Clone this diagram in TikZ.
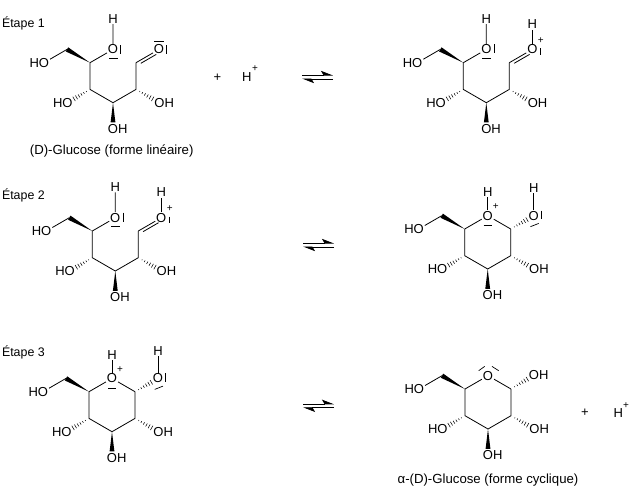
\documentclass[tikz,border=0pt]{standalone}
\usepackage{fontspec}
\setmainfont{Liberation Sans}
\usetikzlibrary{calc,arrows.meta}

\tikzset{
    every node/.style={inner sep=0.8pt,font=\fontsize{13}{15}\selectfont},
    caption/.style={font=\fontsize{13.2}{15}\selectfont},
    steplabel/.style={anchor=west,font=\fontsize{12.4}{15}\selectfont},
    bond/.style={black,line width=0.8pt},
    pair/.style={black,line width=0.7pt},
    charge/.style={inner sep=0pt,font=\fontsize{10}{11}\selectfont},
    harpoonline/.style={black,line width=0.8pt,-{Stealth[harpoon,length=11pt,width=8.5pt,inset=2.5pt]}},
}
\newcommand{\OHright}{O\rlap{H}}
\newcommand{\HOleft}{\llap{H}O}
\newcommand{\wedgebond}[3]{
    \coordinate (tip) at ($(#1)!#3!(#2)$);
    \fill ($(#1)$) -- ($(tip)!2.4pt!90:(#1)$) -- ($(tip)!2.4pt!-90:(#1)$) -- cycle;
}
\newcommand{\hashbond}[2]{
    \foreach \t/\w in {.16/.5,.27/.9,.38/1.3,.49/1.7,.60/2.1,.71/2.5} {
        \coordinate (tick) at ($(#1)!\t!(#2)$);
        \draw [black,line width=0.55pt] ($(tick)!\w pt!90:(#1)$) -- ($(tick)!\w pt!-90:(#1)$);
    }
}
\newcommand{\pairbar}[3]{\draw [pair] ([shift={(#2)}]#1.center) -- ([shift={(#3)}]#1.center);}
\newcommand{\equil}[3]{
    \coordinate (#1l1) at (#2,#3-1.9);
    \coordinate (#1r1) at (#2+31,#3-1.9);
    \coordinate (#1l2) at (#2,#3+1.9);
    \coordinate (#1r2) at (#2+31,#3+1.9);
    \draw [harpoonline] (#1l1) -- (#1r1);
    \draw [harpoonline] (#1r2) -- (#1l2);
}
% the carbons and OH groups every form has in common
\newcommand{\sugarcore}{
    \coordinate (c5) at (0,0);
    \coordinate (c4) at (0,26.7);
    \coordinate (c3) at (23,40);
    \coordinate (c2) at (46,26.7);
    \coordinate (c1) at (46,0);
    \coordinate (ch2) at (-23,-13.3);
    \node (ho6) at (-46,0) {\HOleft};
    \node (ho4) at (-22.5,40) {\HOleft};
    \node (oh3) at (23,66) {\OHright};
    \node (oh2) at (69.5,40) {\OHright};
    \draw [bond] (c5) -- (c4) -- (c3) -- (c2) -- (c1);
    \draw [bond] (ch2) -- (ho6);
    \wedgebond{c5}{ch2}{1}
    \wedgebond{c3}{oh3}{.76}
    \hashbond{c4}{ho4}
    \hashbond{c2}{oh2}
}
% open chain, with the aldehyde on c1
\newcommand{\openform}{
    \sugarcore
    \node (o5) at (23,-13.3) {O};
    \node (h5) at (23,-44) {H};
    \node (o1) at (69,-13.3) {O};
    \draw [bond] (c5) -- (o5) -- (h5);
    \draw [bond] (c1) -- (o1);
    \draw [bond] ($(c1)!.15!(o1)+(1.4,2.6)$) -- ($(c1)!.82!(o1)+(1.4,2.6)$);
    \pairbar{o5}{-4,9}{4.5,9}
}
% closed ring, with the oxygen between c5 and c1
\newcommand{\ringform}{
    \sugarcore
    \node (o5) at (23,-13.3) {O};
    \draw [bond] (c1) -- (o5) -- (c5);
}
\newcommand{\ringcation}{
    \ringform
    \node (h5) at (23,-37) {H};
    \node [charge] (p5) at (31,-22) {+};
    \node (o1) at (69,-13.3) {O};
    \node (h1) at (69,-41) {H};
    \draw [bond] (o5) -- (h5);
    \draw [bond] (o1) -- (h1);
    \hashbond{c1}{o1}
    \pairbar{o5}{-4,9.5}{4,9.5}
    \pairbar{o1}{7.3,-5}{7.3,3.7}
    \pairbar{o1}{-3.3,11}{5,7.7}
}
\newcommand{\opencation}{
    \openform
    \node (h1) at (69,-38.5) {H};
    \node [charge] (p1) at (77.5,-22) {+};
    \draw [bond] (o1) -- (h1);
    \pairbar{o5}{8,-5}{8,4}
    \pairbar{o1}{8.3,-1}{8.3,5.5}
}

\begin{document}
\begin{tikzpicture}[x=1pt,y=-1pt]
    \useasboundingbox (0,0) rectangle (634,493);

    \node [steplabel] (etape1) at (1,23) {Étape 1};
    \node [steplabel] (etape2) at (1,195.7) {Étape 2};
    \node [steplabel] (etape3) at (1,352.7) {Étape 3};
    \node [caption] (capt1) at (111.7,150.7) {(D)-Glucose (forme linéaire)};
    \node [caption] (capt2) at (488,480) {α-(D)-Glucose (forme cyclique)};

    \begin{scope}[shift={(90,62.7)},name prefix=glua-]
        \openform
        \pairbar{o5}{7.5,-4}{7.5,4.5}
        \pairbar{o1}{-5,-8.5}{5,-8.5}
        \pairbar{o1}{7,-4}{7,4.5}
    \end{scope}
    \begin{scope}[shift={(463.3,62.7)},name prefix=glub-]
        \opencation
    \end{scope}
    \begin{scope}[shift={(92.3,231)},name prefix=gluc-]
        \opencation
    \end{scope}
    \begin{scope}[shift={(464.7,229)},name prefix=glud-]
        \ringcation
    \end{scope}
    \begin{scope}[shift={(89,391.7)},name prefix=glue-]
        \ringcation
    \end{scope}
    \begin{scope}[shift={(465,389)},name prefix=gluf-]
        \ringform
        \node (o1) at (69,-14) {\OHright};
        \hashbond{c1}{o1}
        \pairbar{o5}{-9.3,-5}{-3.3,-9.3}
        \pairbar{o5}{4,-9.3}{10.7,-5}
    \end{scope}

    \node (plusa) at (217.3,77.5) {+};
    \node (proa) at (246.7,77.3) {H};
    \node [charge] (proacharge) at (255,69) {+};
    \node (plusb) at (585,412.3) {+};
    \node (prob) at (618.3,413.3) {H};
    \node [charge] (probcharge) at (626,406) {+};

    \equil{eqa}{302}{77}
    \equil{eqb}{303}{245}
    \equil{eqc}{303}{405.8}
\end{tikzpicture}
\end{document}
